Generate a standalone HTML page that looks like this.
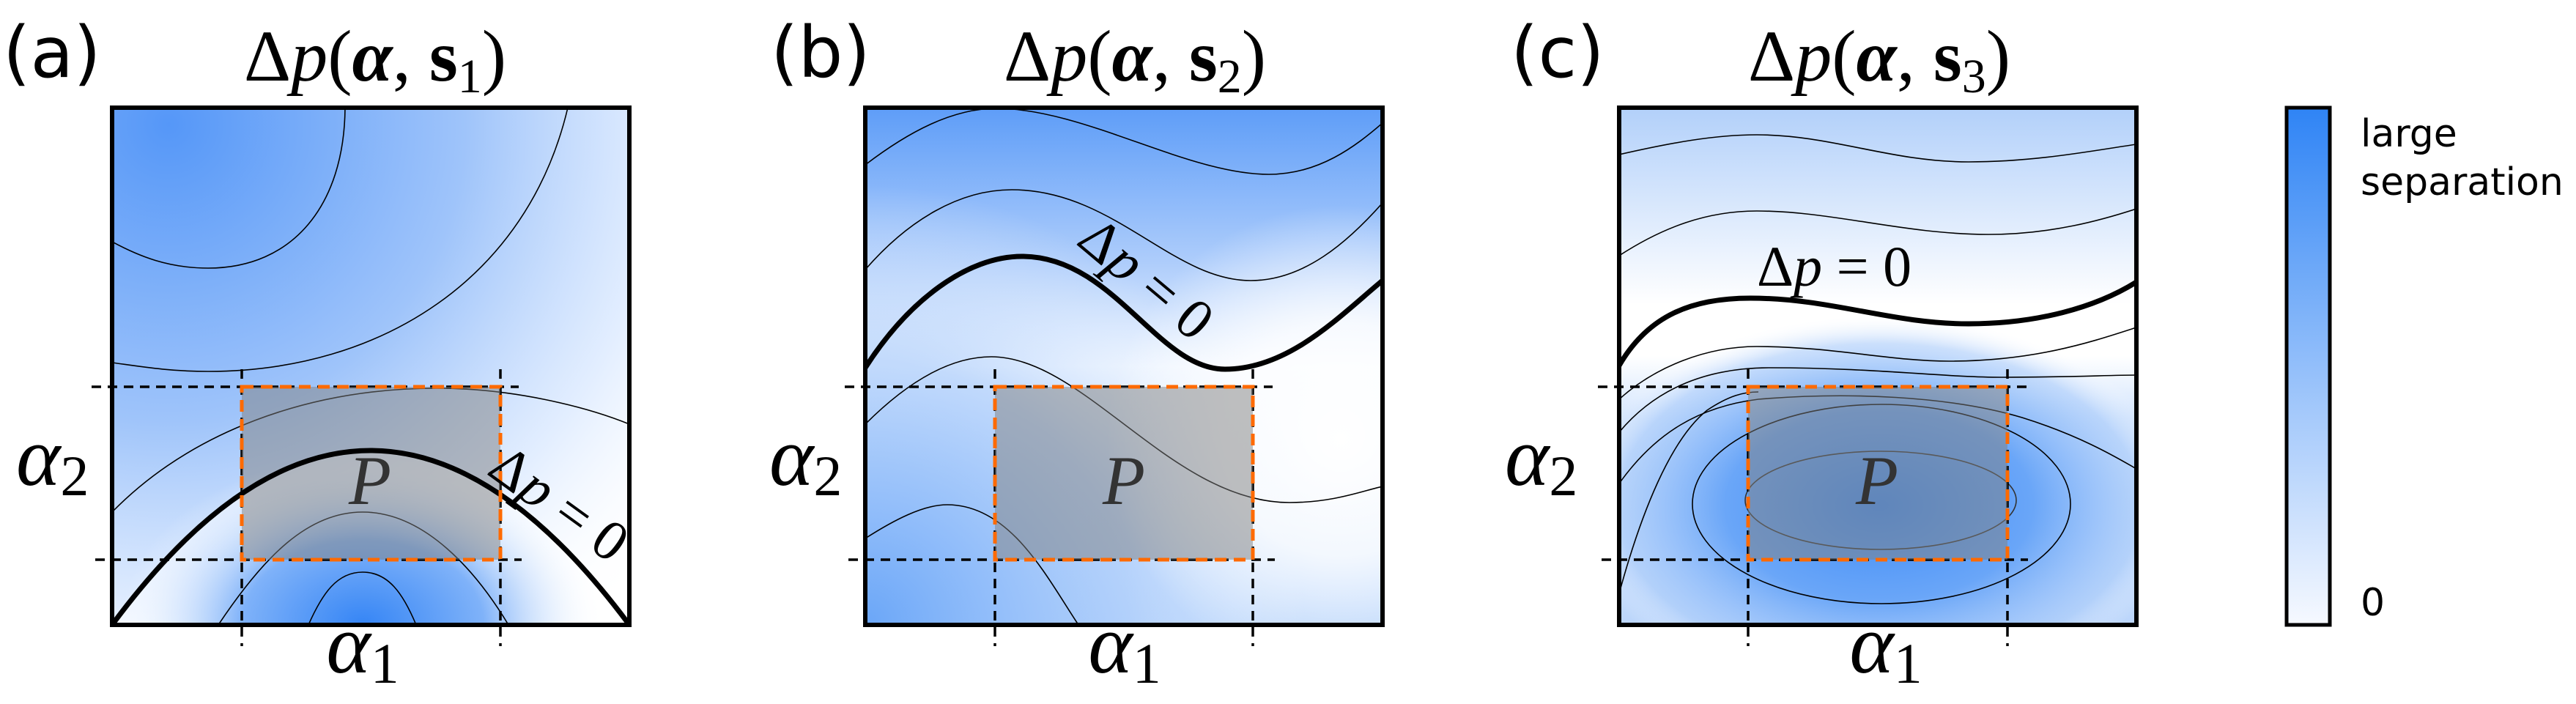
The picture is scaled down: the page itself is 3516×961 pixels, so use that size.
<!DOCTYPE html>
<html><head><meta charset="utf-8"><style>
html,body{margin:0;padding:0;background:#fff;}
svg{display:block;}
.ser{font-family:"Liberation Serif",serif;}
.san{font-family:"DejaVu Sans","Liberation Sans",sans-serif;}
</style></head><body>
<svg width="3516" height="961" viewBox="0 0 3516 961" xmlns="http://www.w3.org/2000/svg">
<defs>
<clipPath id="ca"><rect x="153" y="147" width="706" height="706"/></clipPath>
<clipPath id="cb"><rect x="1181" y="147" width="706" height="706"/></clipPath>
<clipPath id="cc"><rect x="2210" y="147" width="706" height="706"/></clipPath>
<radialGradient id="ga1" cx="230" cy="170" r="900" gradientUnits="userSpaceOnUse">
<stop offset="0" stop-color="#5597f8"/><stop offset="0.45" stop-color="#9fc4fa"/><stop offset="0.75" stop-color="#dceaff" stop-opacity="0.8"/><stop offset="1" stop-color="#fff" stop-opacity="0"/></radialGradient>
<radialGradient id="ga2" cx="495" cy="853" r="330" gradientUnits="userSpaceOnUse" gradientTransform="translate(495 853) scale(1 0.7) translate(-495 -853)">
<stop offset="0" stop-color="#3585f5"/><stop offset="0.5" stop-color="#7fb2f9"/><stop offset="1" stop-color="#fff" stop-opacity="0"/></radialGradient>
<linearGradient id="gb1" x1="0" y1="147" x2="0" y2="853" gradientUnits="userSpaceOnUse">
<stop offset="0" stop-color="#5e9df8"/><stop offset="0.3" stop-color="#aecdfb"/><stop offset="0.5" stop-color="#eef5ff"/><stop offset="0.7" stop-color="#d2e4fd"/><stop offset="1" stop-color="#b4d2fb"/></linearGradient>
<radialGradient id="gb2" cx="1181" cy="853" r="600" gradientUnits="userSpaceOnUse">
<stop offset="0" stop-color="#6aa6f8"/><stop offset="0.6" stop-color="#b0cffb" stop-opacity="0.7"/><stop offset="1" stop-color="#fff" stop-opacity="0"/></radialGradient>
<radialGradient id="gb3" cx="1830" cy="600" r="320" gradientUnits="userSpaceOnUse">
<stop offset="0" stop-color="#fff"/><stop offset="0.5" stop-color="#fff" stop-opacity="0.8"/><stop offset="1" stop-color="#fff" stop-opacity="0"/></radialGradient>
<linearGradient id="gc1" x1="0" y1="147" x2="0" y2="853" gradientUnits="userSpaceOnUse">
<stop offset="0" stop-color="#b2d0fa"/><stop offset="0.38" stop-color="#fff"/><stop offset="0.48" stop-color="#fff"/><stop offset="0.6" stop-color="#d2e4fd"/><stop offset="1" stop-color="#bcd6fb"/></linearGradient>
<radialGradient id="gc2" cx="2565" cy="690" r="420" gradientUnits="userSpaceOnUse" gradientTransform="translate(2565 690) scale(1 0.62) translate(-2565 -690)">
<stop offset="0" stop-color="#3f8cf6"/><stop offset="0.5" stop-color="#6aa6f8"/><stop offset="0.85" stop-color="#a9cbfa" stop-opacity="0.6"/><stop offset="1" stop-color="#fff" stop-opacity="0"/></radialGradient>
<linearGradient id="gcb" x1="0" y1="0" x2="0" y2="1">
<stop offset="0" stop-color="#2f84f5"/><stop offset="1" stop-color="#f6f9ff"/></linearGradient>
</defs>

<!-- Panel A -->
<g clip-path="url(#ca)">
<rect x="153" y="147" width="706" height="706" fill="#fff"/>
<rect x="153" y="147" width="706" height="706" fill="url(#ga1)"/>
<path d="M153 853 Q505 377 859 853 Z" fill="#fff" opacity="0.5"/>
<rect x="153" y="147" width="706" height="706" fill="url(#ga2)"/>
<g fill="none" stroke="#000" stroke-width="1.6">
<path d="M471 147 C470 280 400 366 284 366 C230 366 190 350 153 330"/>
<path d="M775 147 C720 380 520 507 284 507 C230 507 190 500 153 495"/>
<path d="M153 699 C260 590 420 530 596 530 C700 530 800 555 859 579"/>
<path d="M298 853 C360 760 420 699 495 699 C580 699 650 780 694 853"/>
<path d="M421 853 C440 810 460 781 495 781 C530 781 550 810 568 853"/>
</g>
</g>
<g stroke="#000" stroke-width="3.5" stroke-dasharray="13 9" fill="none">
<line x1="125" y1="528" x2="708" y2="528"/><line x1="130" y1="764" x2="712" y2="764"/>
<line x1="330" y1="504" x2="330" y2="882"/><line x1="683" y1="504" x2="683" y2="882"/>
</g>
<rect x="330" y="528" width="353" height="236" fill="#808080" opacity="0.5"/>
<path d="M153 853 Q505 377 859 853" fill="none" stroke="#000" stroke-width="7" clip-path="url(#ca)"/>
<rect x="330" y="528" width="353" height="236" fill="none" stroke="#ff6a00" stroke-width="5" stroke-dasharray="16 10"/>
<rect x="153" y="147" width="706" height="706" fill="none" stroke="#000" stroke-width="6"/>
<text x="505" y="688" class="ser" font-style="italic" font-size="95" fill="#333" text-anchor="middle">P</text>
<text transform="translate(748 708) rotate(36)" class="ser" font-size="78" text-anchor="middle">Δ<tspan font-style="italic">p</tspan> = 0</text>

<!-- Panel B -->
<g clip-path="url(#cb)">
<rect x="1181" y="147" width="706" height="706" fill="url(#gb1)"/>
<rect x="1181" y="147" width="706" height="706" fill="url(#gb2)"/>
<rect x="1181" y="147" width="706" height="706" fill="url(#gb3)"/>
<g fill="none" stroke="#000" stroke-width="1.6">
<path d="M1181 225 C1240 180 1300 148 1360 148 C1480 148 1620 238 1732 238 C1800 238 1850 200 1887 168"/>
<path d="M1181 368 C1240 300 1310 259 1381 259 C1520 259 1600 383 1707 383 C1780 383 1840 330 1887 277"/>
<path d="M1181 579 C1230 530 1290 487 1353 487 C1480 487 1600 686 1760 686 C1820 686 1860 670 1887 664"/>
<path d="M1181 735 C1220 710 1260 689 1293 689 C1380 689 1430 790 1472 853"/>
</g>
</g>
<g stroke="#000" stroke-width="3.5" stroke-dasharray="13 9" fill="none">
<line x1="1153" y1="528" x2="1737" y2="528"/><line x1="1158" y1="764" x2="1740" y2="764"/>
<line x1="1358" y1="504" x2="1358" y2="882"/><line x1="1710" y1="504" x2="1710" y2="882"/>
</g>
<rect x="1358" y="528" width="352" height="236" fill="#808080" opacity="0.5"/>
<path d="M1181 502 C1240 410 1320 350 1395 350 C1520 350 1580 504 1672 504 C1760 504 1830 430 1887 383" fill="none" stroke="#000" stroke-width="7" clip-path="url(#cb)"/>
<rect x="1358" y="528" width="352" height="236" fill="none" stroke="#ff6a00" stroke-width="5" stroke-dasharray="16 10"/>
<rect x="1181" y="147" width="706" height="706" fill="none" stroke="#000" stroke-width="6"/>
<text x="1534" y="688" class="ser" font-style="italic" font-size="95" fill="#333" text-anchor="middle">P</text>
<text transform="translate(1548 400) rotate(40)" class="ser" font-size="78" text-anchor="middle">Δ<tspan font-style="italic">p</tspan> = 0</text>

<!-- Panel C -->
<g clip-path="url(#cc)">
<rect x="2210" y="147" width="706" height="706" fill="url(#gc1)"/>
<rect x="2210" y="147" width="706" height="706" fill="url(#gc2)"/>
<g fill="none" stroke="#000" stroke-width="1.6">
<path d="M2210 211 C2280 195 2340 184 2398 184 C2500 184 2580 221 2687 221 C2780 221 2860 205 2916 197"/>
<path d="M2210 349 C2270 310 2330 288 2398 288 C2500 288 2600 320 2714 320 C2800 320 2870 300 2916 285"/>
<path d="M2210 545 C2260 500 2330 473 2398 473 C2500 473 2580 493 2660 493 C2780 493 2860 465 2916 447"/>
<path d="M2210 590 C2260 530 2330 502 2416 502 C2560 502 2650 515 2732 515 C2820 515 2880 512 2916 512"/>
<path d="M2210 660 C2260 590 2320 555 2400 545 C2520 535 2660 540 2760 570 C2840 595 2890 625 2916 640"/>
<path d="M2210 810 C2240 700 2280 600 2330 560 C2360 540 2380 535 2400 535"/>
<ellipse cx="2568" cy="688" rx="258" ry="136"/>
<ellipse cx="2567" cy="683" rx="185" ry="67" stroke="#333"/>
</g>
</g>
<g stroke="#000" stroke-width="3.5" stroke-dasharray="13 9" fill="none">
<line x1="2181" y1="528" x2="2767" y2="528"/><line x1="2186" y1="764" x2="2768" y2="764"/>
<line x1="2386" y1="504" x2="2386" y2="882"/><line x1="2740" y1="504" x2="2740" y2="882"/>
</g>
<rect x="2386" y="528" width="354" height="236" fill="#808080" opacity="0.5"/>
<path d="M2210 499 C2250 430 2310 407 2389 407 C2500 407 2580 442 2687 442 C2780 442 2860 420 2916 385" fill="none" stroke="#000" stroke-width="7" clip-path="url(#cc)"/>
<rect x="2386" y="528" width="354" height="236" fill="none" stroke="#ff6a00" stroke-width="5" stroke-dasharray="16 10"/>
<rect x="2210" y="147" width="706" height="706" fill="none" stroke="#000" stroke-width="6"/>
<text x="2562" y="688" class="ser" font-style="italic" font-size="95" fill="#333" text-anchor="middle">P</text>
<text x="2398" y="390" class="ser" font-size="78">Δ<tspan font-style="italic">p</tspan> = 0</text>

<!-- Titles -->
<text x="512" y="110" class="ser" font-size="100" text-anchor="middle">Δ<tspan font-style="italic">p</tspan>(<tspan font-style="italic" font-weight="bold">α</tspan>, <tspan font-weight="bold">s</tspan><tspan font-size="66" dy="16">1</tspan><tspan dy="-16">)</tspan></text>
<text x="1549" y="110" class="ser" font-size="100" text-anchor="middle">Δ<tspan font-style="italic">p</tspan>(<tspan font-style="italic" font-weight="bold">α</tspan>, <tspan font-weight="bold">s</tspan><tspan font-size="66" dy="16">2</tspan><tspan dy="-16">)</tspan></text>
<text x="2565" y="110" class="ser" font-size="100" text-anchor="middle">Δ<tspan font-style="italic">p</tspan>(<tspan font-style="italic" font-weight="bold">α</tspan>, <tspan font-weight="bold">s</tspan><tspan font-size="66" dy="16">3</tspan><tspan dy="-16">)</tspan></text>

<text x="4" y="105" class="san" font-size="96">(a)</text>
<text x="1052" y="105" class="san" font-size="96">(b)</text>
<text x="2062" y="105" class="san" font-size="96">(c)</text>

<text x="22" y="662" class="ser" font-style="italic" font-size="115">α<tspan font-style="normal" font-size="78" dy="14">2</tspan></text>
<text x="1050" y="662" class="ser" font-style="italic" font-size="115">α<tspan font-style="normal" font-size="78" dy="14">2</tspan></text>
<text x="2054" y="662" class="ser" font-style="italic" font-size="115">α<tspan font-style="normal" font-size="78" dy="14">2</tspan></text>
<text x="495" y="918" class="ser" font-style="italic" font-size="115" text-anchor="middle">α<tspan font-style="normal" font-size="78" dy="14">1</tspan></text>
<text x="1535" y="918" class="ser" font-style="italic" font-size="115" text-anchor="middle">α<tspan font-style="normal" font-size="78" dy="14">1</tspan></text>
<text x="2574" y="918" class="ser" font-style="italic" font-size="115" text-anchor="middle">α<tspan font-style="normal" font-size="78" dy="14">1</tspan></text>

<!-- Colorbar -->
<rect x="3121" y="147" width="59" height="706" fill="url(#gcb)" stroke="#000" stroke-width="5"/>
<text x="3222" y="200" class="san" font-size="52">large</text>
<text x="3222" y="266" class="san" font-size="52">separation</text>
<text x="3222" y="840" class="san" font-size="52">0</text>
</svg>
</body></html>
